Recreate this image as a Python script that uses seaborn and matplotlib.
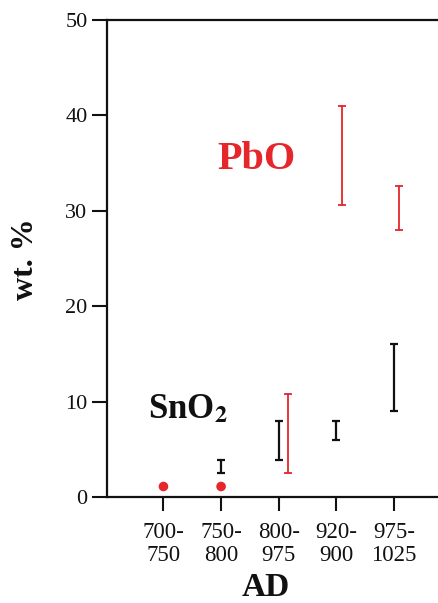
import numpy as np
import pandas as pd
import seaborn as sns
import matplotlib.pyplot as plt

# --- data ---
periods = ["700-\n750", "750-\n800", "800-\n975", "920-\n900", "975-\n1025"]
sno2_low = [np.nan, 2.5, 3.9, 6.0, 9.0]
sno2_high = [np.nan, 3.9, 8.0, 8.0, 16.0]
pbo_low = [np.nan, np.nan, 2.5, 30.6, 28.0]
pbo_high = [np.nan, np.nan, 10.8, 41.0, 32.6]
pbo_dots = [1.1, 1.1, np.nan, np.nan, np.nan]

# small horizontal shift of the red bars next to the black ones
pbo_shift = [0.0, 0.0, 0.16, 0.10, 0.09]

RED = "#e5262b"
BLACK = "#111111"

sns.set_theme(style="ticks")
plt.rcParams["font.family"] = ["Liberation Serif", "DejaVu Serif"]
plt.rcParams["mathtext.fontset"] = "stix"
plt.rcParams["text.color"] = BLACK
plt.rcParams["xtick.labelcolor"] = BLACK
plt.rcParams["ytick.labelcolor"] = BLACK


def ranges(low, high, shift):
    rows = []
    for i, (lo, hi) in enumerate(zip(low, high)):
        if np.isnan(lo):
            continue
        rows.append({"pos": i + shift[i], "wt": lo})
        rows.append({"pos": i + shift[i], "wt": hi})
    return pd.DataFrame(rows)


sno2_df = ranges(sno2_low, sno2_high, [0.0] * len(periods))
pbo_df = ranges(pbo_low, pbo_high, pbo_shift)
dots_df = pd.DataFrame({"pos": range(len(periods)), "wt": pbo_dots}).dropna()

fig = plt.figure(figsize=(4.39, 6.03), dpi=100)
ax = fig.add_axes([0.2437, 0.1758, 0.785, 0.791])

sns.lineplot(data=sno2_df, x="pos", y="wt", estimator="mean", errorbar=("pi", 100),
             err_style="bars", color=BLACK, linewidth=0, ax=ax,
             err_kws={"capsize": 3.2, "elinewidth": 1.6, "capthick": 1.6})
sns.lineplot(data=pbo_df, x="pos", y="wt", estimator="mean", errorbar=("pi", 100),
             err_style="bars", color=RED, linewidth=0, ax=ax,
             err_kws={"capsize": 3.2, "elinewidth": 1.3, "capthick": 1.3})
sns.scatterplot(data=dots_df, x="pos", y="wt", color=RED, s=48, edgecolor="none", ax=ax)

ax.set_xlim(-0.98, 5.0)
ax.set_ylim(0, 50)
ax.set_xticks(range(len(periods)))
ax.set_xticklabels(periods, fontsize=16.5, linespacing=1.15)
ax.set_yticks([0, 10, 20, 30, 40, 50])
ax.tick_params(axis="y", labelsize=16, length=11, width=1.5, pad=3, color=BLACK)
ax.tick_params(axis="x", length=10, width=1.5, pad=8, color=BLACK)

for side in ["left", "top", "bottom", "right"]:
    ax.spines[side].set_linewidth(1.6)
    ax.spines[side].set_color(BLACK)

ax.set_xlabel("")
ax.set_ylabel("")
fig.text(0.059, 0.57, "wt. %", rotation=90, fontsize=23, fontweight="bold",
         ha="center", va="center")
fig.text(0.606, 0.012, "AD", fontsize=24, fontweight="bold", ha="center", va="baseline")

ax.text(0.94, 34.4, "PbO", color=RED, fontsize=29, fontweight="bold")
ax.text(-0.26, 8.3, r"SnO$_\mathbf{2}$", color=BLACK, fontsize=25, fontweight="bold")

fig.savefig("out.png", dpi=100, facecolor="white")
